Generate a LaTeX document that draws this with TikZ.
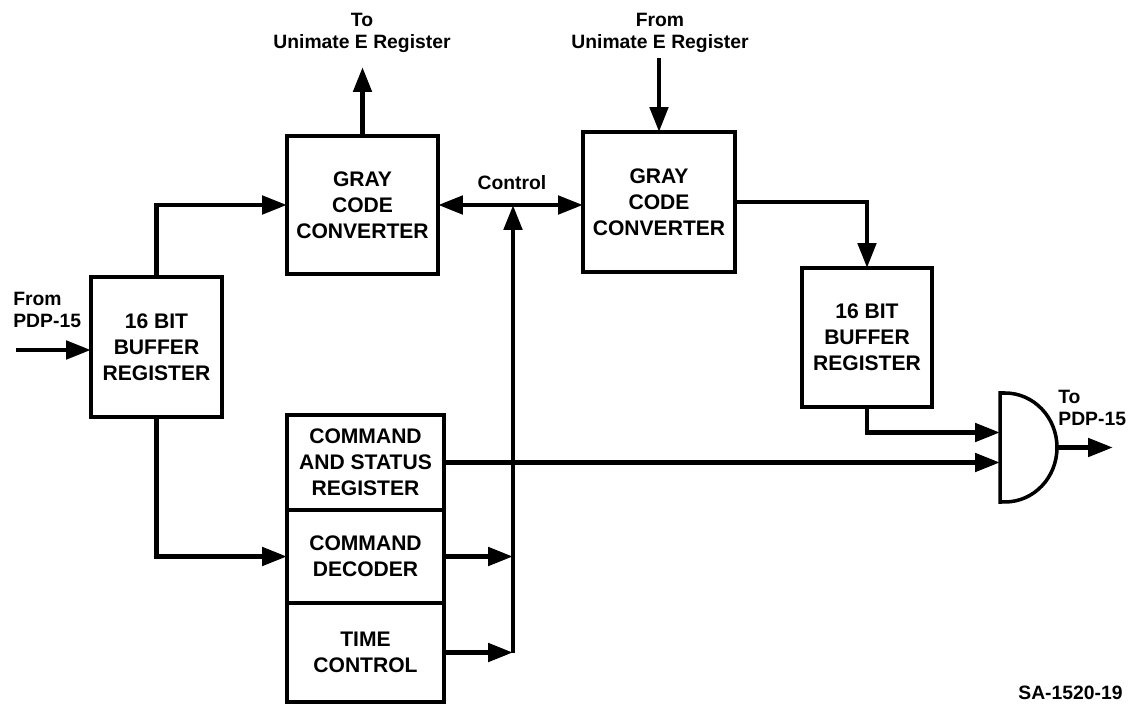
\documentclass[tikz,border=0pt]{standalone}
\usepackage{fontspec}
\setmainfont{Liberation Sans}
\usetikzlibrary{arrows.meta}
\tikzset{
  blk/.style={draw, line width=2pt, rectangle, inner sep=0pt, outer sep=0pt, align=center,
    font=\bfseries\fontsize{12}{14.8}\selectfont},
  lbl/.style={align=center, inner sep=0pt, font=\bfseries\fontsize{11}{12.5}\selectfont},
  arr/.style={line width=2.8pt, -{Triangle[length=0.5cm,width=0.36cm]}},
  arrtwo/.style={line width=2.8pt, {Triangle[length=0.5cm,width=0.36cm]}-{Triangle[length=0.5cm,width=0.36cm]}},
}
\begin{document}
\begin{tikzpicture}[x=0.02cm,y=-0.02cm]
\useasboundingbox (0,0) rectangle (1135,705);
% blocks
\node[blk, minimum width=2.62cm, minimum height=2.80cm] (buf1) at (156.5,347) {16 BIT\\BUFFER\\REGISTER};
\node[blk, minimum width=3.02cm, minimum height=2.76cm] (gcc1) at (362.5,205) {GRAY\\CODE\\CONVERTER};
\node[blk, minimum width=3.04cm, minimum height=2.80cm] (gcc2) at (659,202) {GRAY\\CODE\\CONVERTER};
\node[blk, minimum width=2.60cm, minimum height=2.78cm] (buf2) at (867,337.5) {16 BIT\\BUFFER\\REGISTER};
\node[blk, minimum width=3.14cm, minimum height=1.90cm] (csr) at (365.5,462.5) {COMMAND\\AND STATUS\\REGISTER};
\node[blk, minimum width=3.14cm, minimum height=1.86cm] (dec) at (365.5,556.5) {COMMAND\\DECODER};
\node[blk, minimum width=3.14cm, minimum height=1.98cm] (tim) at (365.5,652.5) {TIME\\CONTROL};
% labels
\node[lbl, anchor=west, align=left] (lfrom) at (13,310) {From\\PDP-15};
\node[lbl] (lto1) at (362,33) {To\\Unimate E Register};
\node[lbl] (lfrom1) at (660,33) {From\\Unimate E Register};
\node[lbl] (lctl) at (512,183) {Control};
\node[lbl, anchor=west, align=left] (lto2) at (1058,408) {To\\PDP-15};
\node[lbl, anchor=west] (lsa) at (1018,693) {SA-1520-19};
% coordinates
\coordinate (in0) at (16,350);
\coordinate (toU) at (362.5,67);
\coordinate (fromU) at (659,58);
\coordinate (vb) at (513,652.5);
\coordinate (gin1) at (1000,432.5);
\coordinate (gin2) at (1000,462.5);
\coordinate (gout) at (1057,447.5);
\coordinate (gend) at (1113,447.5);
% AND gate
\draw[line width=2pt] (1000,393) -- (1005,393)
  arc[start angle=90,end angle=-90,x radius=1.04cm,y radius=1.09cm] -- (1000,502) -- cycle;
% connectors
\draw[arr] (in0) -- (buf1.west |- in0);
\draw[arr] (buf1.north) |- (gcc1.west);
\draw[arr] (gcc1.north) -- (toU);
\draw[arr] (fromU) -- (gcc2.north);
\draw[arrtwo] (gcc1.east) -- (gcc1.east -| gcc2.west);
\draw[arr] (vb) -- (vb |- gcc1.east);
\draw[arr] (dec.east) -- (dec.east -| vb);
\draw[arr] (tim.east) -- (vb);
\draw[arr] (buf1.south) |- (dec.west);
\draw[arr] (gcc2.east) -| (buf2.north);
\draw[arr] (buf2.south) |- (gin1);
\draw[arr] (csr.east) -- (gin2);
\draw[arr] (gout) -- (gend);
\end{tikzpicture}
\end{document}
